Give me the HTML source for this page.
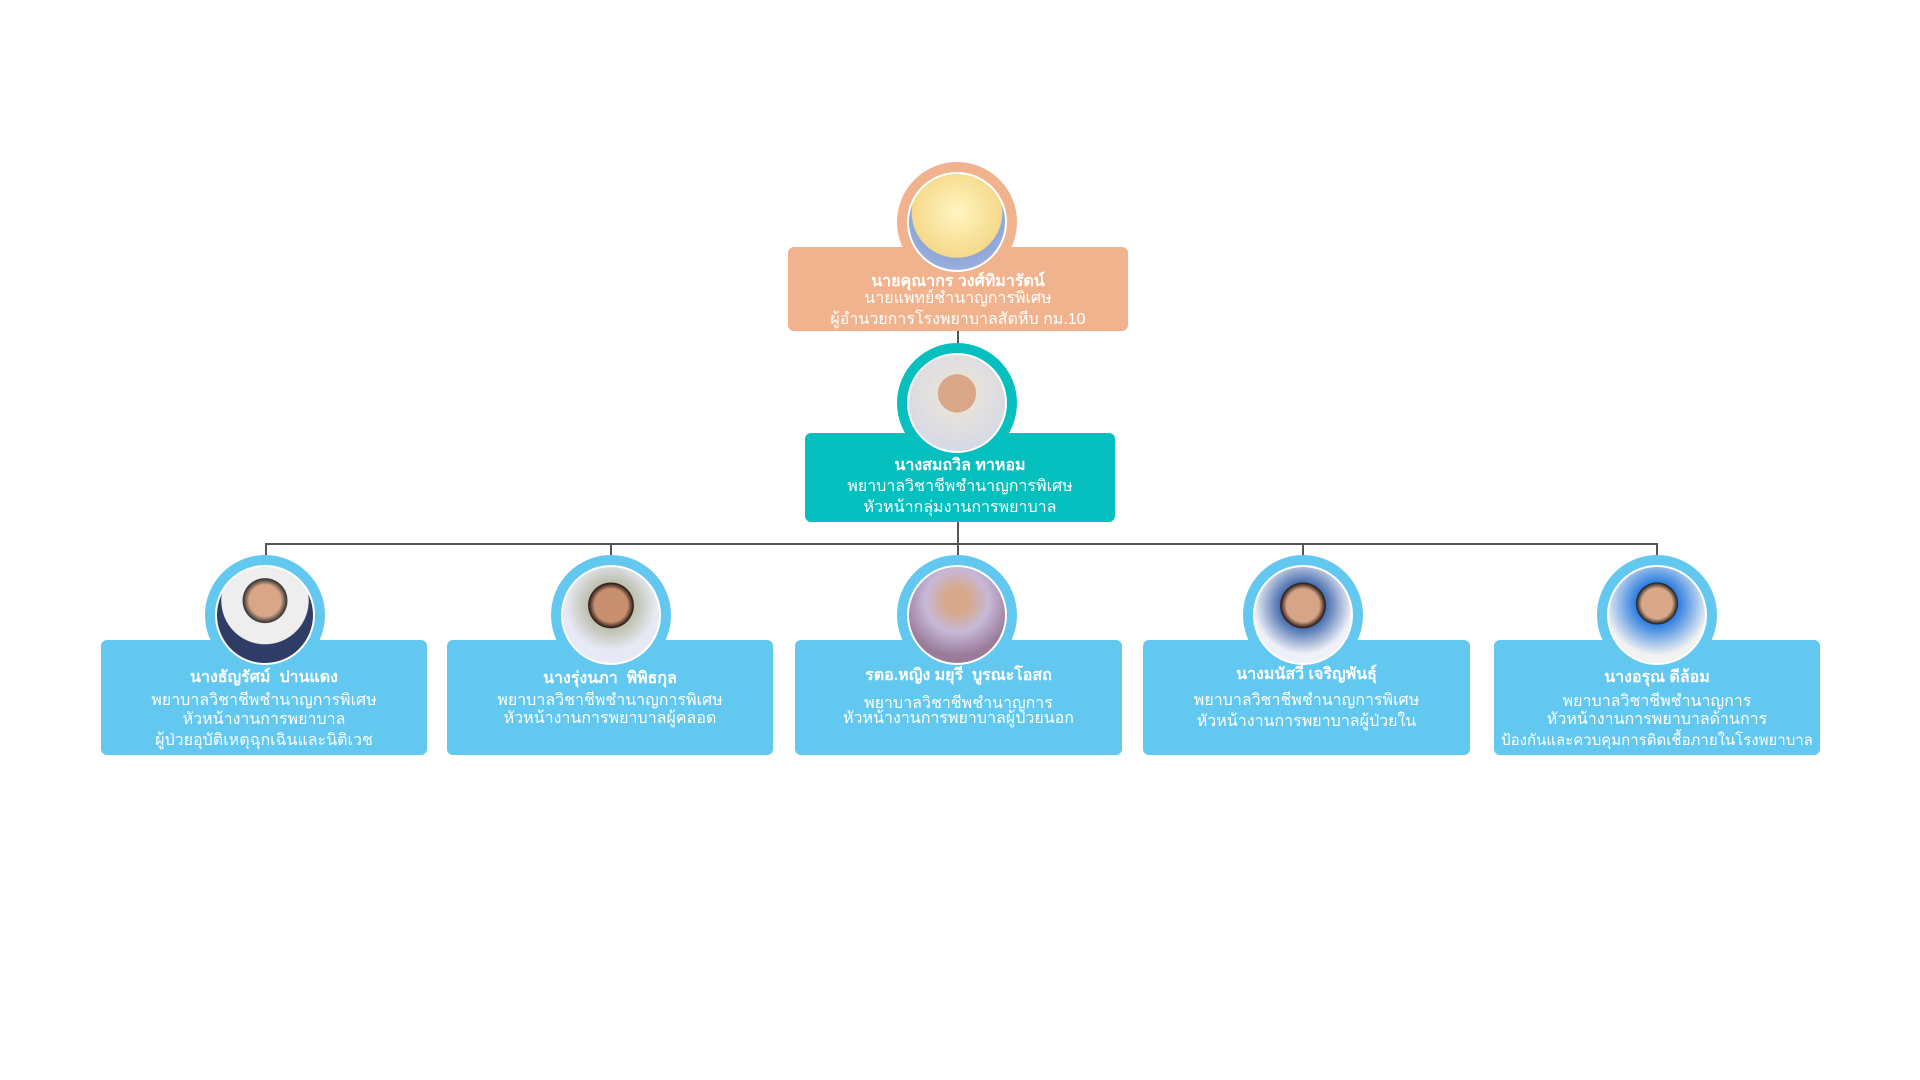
<!DOCTYPE html>
<html><head><meta charset="utf-8"><style>
body{margin:0;width:1920px;height:1080px;background:#fff;position:relative;overflow:hidden;font-family:"Liberation Sans","Noto Sans CJK SC",sans-serif;}
.box{position:absolute;border-radius:6px;color:#fff;text-align:center;}
.tx{position:absolute;color:#fff;text-align:center;z-index:5;}
.t{position:absolute;left:0;right:0;text-align:center;font-size:16px;white-space:nowrap;line-height:20px;}
.b{font-weight:bold;}
.c{position:absolute;border-radius:50%;}
.p{position:absolute;border-radius:50%;border:2px solid #fff;box-sizing:border-box;}
.l{position:absolute;background:#555;}
</style></head><body>
<div class="l" style="left:957px;top:331px;width:2px;height:22px"></div>
<div class="l" style="left:957px;top:522px;width:2px;height:22px"></div>
<div class="l" style="left:265px;top:543px;width:1393px;height:2px"></div>
<div class="l" style="left:265px;top:543px;width:2px;height:14px"></div>
<div class="l" style="left:610px;top:543px;width:2px;height:14px"></div>
<div class="l" style="left:957px;top:543px;width:2px;height:14px"></div>
<div class="l" style="left:1302px;top:543px;width:2px;height:14px"></div>
<div class="l" style="left:1656px;top:543px;width:2px;height:14px"></div>

<div class="box" style="left:788px;top:247px;width:340px;height:84px;background:#f1b38d"></div>
<div class="c" style="left:897px;top:162px;width:120px;height:120px;background:#f1b38d"></div>
<div class="p" style="left:907px;top:172px;width:100px;height:100px;background:radial-gradient(circle at 50% 40%,#fff6c0,#f5d98a 60%,#8fa6d8 61%,#a9bde6)"></div>
<div class="tx" style="left:788px;top:247px;width:340px;height:84px">
<div class="t b" style="top:25px">นายคุณากร วงศ์ทิมารัตน์</div>
<div class="t" style="top:42px">นายแพทย์ชำนาญการพิเศษ</div>
<div class="t" style="top:63px">ผู้อำนวยการโรงพยาบาลสัตหีบ กม.10</div></div>

<div class="box" style="left:805px;top:433px;width:310px;height:89px;background:#06bfbf"></div>
<div class="c" style="left:897px;top:343px;width:120px;height:120px;background:#06bfbf"></div>
<div class="p" style="left:907px;top:353px;width:100px;height:100px;background:radial-gradient(circle at 50% 40%,#d9a788 25%,#e6e2dc 26%,#cfd4e8)"></div>
<div class="tx" style="left:805px;top:433px;width:310px;height:89px">
<div class="t b" style="top:23px">นางสมถวิล ทาหอม</div>
<div class="t" style="top:44px">พยาบาลวิชาชีพชำนาญการพิเศษ</div>
<div class="t" style="top:65px">หัวหน้ากลุ่มงานการพยาบาล</div></div>

<div class="box" style="left:101px;top:640px;width:326px;height:115px;background:#62c8ef"></div>
<div class="box" style="left:447px;top:640px;width:326px;height:115px;background:#62c8ef"></div>
<div class="box" style="left:795px;top:640px;width:327px;height:115px;background:#62c8ef"></div>
<div class="box" style="left:1143px;top:640px;width:327px;height:115px;background:#62c8ef"></div>
<div class="box" style="left:1494px;top:640px;width:326px;height:115px;background:#62c8ef"></div>

<div class="c" style="left:205px;top:555px;width:120px;height:120px;background:#62c8ef"></div>
<div class="p" style="left:215px;top:565px;width:100px;height:100px;background:radial-gradient(circle at 50% 35%,#d9a788 20%,#333 28%,#eee 29%,#eee 55%,#2e3c66 56%)"></div>
<div class="c" style="left:551px;top:555px;width:120px;height:120px;background:#62c8ef"></div>
<div class="p" style="left:561px;top:565px;width:100px;height:100px;background:radial-gradient(circle at 50% 40%,#c99070 22%,#2a1a14 30%,#bdbfae 31%,#e7e9f4 60%)"></div>
<div class="c" style="left:897px;top:555px;width:120px;height:120px;background:#62c8ef"></div>
<div class="p" style="left:907px;top:565px;width:100px;height:100px;background:radial-gradient(circle at 50% 35%,#d7a88a 15%,#c7b9d8 40%,#9a7b9a 70%)"></div>
<div class="c" style="left:1243px;top:555px;width:120px;height:120px;background:#62c8ef"></div>
<div class="p" style="left:1253px;top:565px;width:100px;height:100px;background:radial-gradient(circle at 50% 40%,#d6a486 22%,#2a1a14 30%,#4a6fb0 31%,#eef1f7 65%)"></div>
<div class="c" style="left:1597px;top:555px;width:120px;height:120px;background:#62c8ef"></div>
<div class="p" style="left:1607px;top:565px;width:100px;height:100px;background:radial-gradient(circle at 50% 38%,#d8a888 20%,#222 27%,#2f7fe0 28%,#f2f2f2 68%)"></div>

<div class="tx" style="left:101px;top:640px;width:326px;height:115px">
<div class="t b" style="top:28px">นางธัญรัศม์ &nbsp;ปานแดง</div>
<div class="t" style="top:51px">พยาบาลวิชาชีพชำนาญการพิเศษ</div>
<div class="t" style="top:70px">หัวหน้างานการพยาบาล</div>
<div class="t" style="top:91px">ผู้ป่วยอุบัติเหตุฉุกเฉินและนิติเวช</div></div>
<div class="tx" style="left:447px;top:640px;width:326px;height:115px">
<div class="t b" style="top:29px">นางรุ่งนภา &nbsp;พิพิธกุล</div>
<div class="t" style="top:51px">พยาบาลวิชาชีพชำนาญการพิเศษ</div>
<div class="t" style="top:69px">หัวหน้างานการพยาบาลผู้คลอด</div></div>
<div class="tx" style="left:795px;top:640px;width:327px;height:115px">
<div class="t b" style="top:26px">รตอ.หญิง มยุรี &nbsp;บูรณะโอสถ</div>
<div class="t" style="top:54px">พยาบาลวิชาชีพชำนาญการ</div>
<div class="t" style="top:69px">หัวหน้างานการพยาบาลผู้ป่วยนอก</div></div>
<div class="tx" style="left:1143px;top:640px;width:327px;height:115px">
<div class="t b" style="top:25px">นางมนัสวี เจริญพันธุ์</div>
<div class="t" style="top:51px">พยาบาลวิชาชีพชำนาญการพิเศษ</div>
<div class="t" style="top:72px">หัวหน้างานการพยาบาลผู้ป่วยใน</div></div>
<div class="tx" style="left:1494px;top:640px;width:326px;height:115px">
<div class="t b" style="top:28px">นางอรุณ ดีล้อม</div>
<div class="t" style="top:52px">พยาบาลวิชาชีพชำนาญการ</div>
<div class="t" style="top:70px">หัวหน้างานการพยาบาลด้านการ</div>
<div class="t" style="top:91px;font-size:15px">ป้องกันและควบคุมการติดเชื้อภายในโรงพยาบาล</div></div>
</body></html>
